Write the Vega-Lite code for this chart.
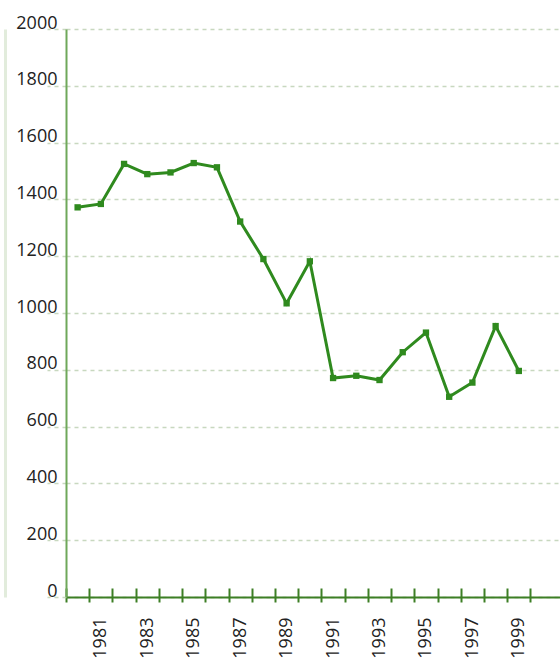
{
  "$schema": "https://vega.github.io/schema/vega-lite/v6.json",
  "width": 494,
  "height": 568,
  "autosize": {"type": "none"},
  "padding": {"left": 66, "top": 29, "right": 0, "bottom": 63},
  "background": "white",
  "config": {"view": {"stroke": null}, "font": "Open Sans"},
  "data": {"values": [
    {"year": 1980, "value": 1372},
    {"year": 1981, "value": 1384},
    {"year": 1982, "value": 1525},
    {"year": 1983, "value": 1489},
    {"year": 1984, "value": 1495},
    {"year": 1985, "value": 1528},
    {"year": 1986, "value": 1513},
    {"year": 1987, "value": 1322},
    {"year": 1988, "value": 1190},
    {"year": 1989, "value": 1034},
    {"year": 1990, "value": 1182},
    {"year": 1991, "value": 771},
    {"year": 1992, "value": 779},
    {"year": 1993, "value": 764},
    {"year": 1994, "value": 862},
    {"year": 1995, "value": 931},
    {"year": 1996, "value": 705},
    {"year": 1997, "value": 755},
    {"year": 1998, "value": 954},
    {"year": 1999, "value": 796}
  ]},
  "layer": [
    {
      "mark": {"type": "line", "color": "#2f8a1e", "strokeWidth": 3},
      "encoding": {
        "x": {
          "field": "year", "type": "ordinal",
          "scale": {"type": "band", "paddingInner": 0, "paddingOuter": 0.636, "align": 0},
          "axis": {
            "title": null, "domainColor": "#3d7f25", "domainWidth": 2,
            "tickColor": "#3d7f25", "tickSize": 5, "tickWidth": 2, "tickBand": "extent",
            "labelAngle": -90, "labelPadding": 15, "labelFontSize": 18, "labelColor": "#222222",
            "labelExpr": "datum.value % 2 == 1 ? datum.label : ''", "grid": false
          }
        },
        "y": {
          "field": "value", "type": "quantitative",
          "scale": {"domain": [0, 2000], "nice": false},
          "axis": {
            "title": null, "format": "d", "values": [0, 200, 400, 600, 800, 1000, 1200, 1400, 1600, 1800, 2000],
            "grid": true, "gridDash": [4, 4], "gridColor": "#c8d8bf", "gridWidth": 1.5,
            "domainColor": "#6fa85a", "domainWidth": 2,
            "tickSize": 19, "tickDash": [4, 4], "tickColor": "#c8d8bf", "tickWidth": 1.5,
            "labelPadding": -10, "labelFontSize": 18, "labelColor": "#222222",
            "labelBaseline": "alphabetic", "labelOffset": -1
          }
        }
      }
    },
    {
      "mark": {"type": "point", "shape": "square", "filled": true, "opacity": 1, "color": "#2f8a1e", "size": 40},
      "encoding": {
        "x": {
          "field": "year", "type": "ordinal",
          "axis": {
            "title": null, "orient": "bottom", "domain": false, "labels": false, "grid": false,
            "tickColor": "#3d7f25", "tickSize": -9, "tickWidth": 2, "tickBand": "extent"
          }
        },
        "y": {
          "field": "value", "type": "quantitative",
          "axis": {
            "title": null, "orient": "left", "offset": 61, "labels": false, "ticks": false, "grid": false,
            "domainColor": "#e2ecdc", "domainWidth": 3
          }
        }
      }
    }
  ],
  "resolve": {"axis": {"x": "independent", "y": "independent"}}
}
